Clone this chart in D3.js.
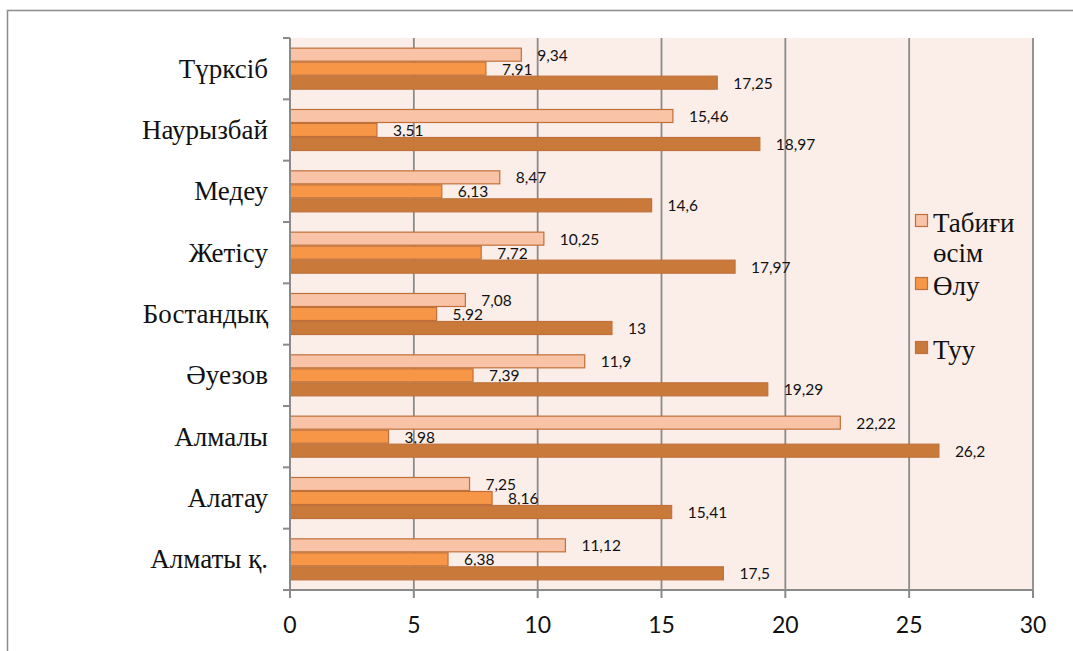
<!DOCTYPE html>
<html>
<head>
<meta charset="utf-8">
<script src="https://cdn.jsdelivr.net/npm/d3@7.9.0/dist/d3.min.js"></script>
<style>
  body { margin: 0; background: #fff; }
  svg { display: block; }
</style>
</head>
<body>
<svg id="chart" width="1073" height="651"></svg>
<script>
// districts, top to bottom as in the picture
const categories = ['Түрксіб', 'Наурызбай', 'Медеу', 'Жетісу', 'Бостандық', 'Әуезов', 'Алмалы', 'Алатау', 'Алматы қ.'];
const natural = [9.34, 15.46, 8.47, 10.25, 7.08, 11.9, 22.22, 7.25, 11.12];
const deaths = [7.91, 3.51, 6.13, 7.72, 5.92, 7.39, 3.98, 8.16, 6.38];
const births = [17.25, 18.97, 14.6, 17.97, 13, 19.29, 26.2, 15.41, 17.5];
const seriesNames = ['Табиғи өсім', 'Өлу', 'Туу'];
const xTicks = [0, 5, 10, 15, 20, 25, 30];

const seriesValues = [natural, deaths, births];
const colors = ['#f9c3a7', '#f79646', '#c97a3a'];
const strokeCol = '#c0703a';
const gridCol = '#8a8a8a';
const serif = 'Liberation Serif';

const svg = d3.select('#chart');
const pLeft = 290, pRight = 1033, pTop = 38, pBottom = 590;

// outer chart border (runs off right and bottom)
svg.append('rect')
  .attr('x', 7.5).attr('y', 10.5)
  .attr('width', 1100).attr('height', 700)
  .attr('fill', 'none').attr('stroke', '#8c8c8c').attr('stroke-width', 1.5);

// plot background
svg.append('rect')
  .attr('x', pLeft).attr('y', pTop)
  .attr('width', pRight - pLeft).attr('height', pBottom - pTop)
  .attr('fill', '#fbeee9');

let x = d3.scaleLinear().domain([0, 30]).range([pLeft, pRight]);
let y = d3.scaleBand().domain(categories).range([pTop, pBottom])
  .paddingInner(0.315).paddingOuter(0.1575);
let ySub = d3.scaleBand().domain(d3.range(3)).range([0, y.bandwidth()]);

// vertical gridlines
svg.selectAll('.grid')
  .data(xTicks.filter(d => d > 0))
  .join('line')
  .attr('x1', d => x(d)).attr('x2', d => x(d))
  .attr('y1', pTop).attr('y2', pBottom)
  .attr('stroke', gridCol).attr('stroke-width', 1.8);

// bars
seriesValues.forEach((vals, s) => {
  svg.append('g').selectAll('rect')
    .data(vals)
    .join('rect')
    .attr('x', x(0))
    .attr('y', (d, i) => y(categories[i]) + ySub(s) + 0.5)
    .attr('width', d => x(d) - x(0))
    .attr('height', ySub.bandwidth() - 1)
    .attr('fill', colors[s])
    .attr('stroke', strokeCol)
    .attr('stroke-width', 1.2);

  svg.append('g').selectAll('text')
    .data(vals)
    .join('text')
    .attr('x', d => x(d) + 16)
    .attr('y', (d, i) => y(categories[i]) + ySub(s) + ySub.bandwidth() / 2 + 6)
    .attr('font-family', 'Lato, sans-serif')
    .attr('font-size', 15.5)
    .attr('fill', '#111')
    .text(d => String(d).replace('.', ','));
});

// y axis line + ticks at band boundaries
svg.append('line')
  .attr('x1', pLeft).attr('x2', pLeft)
  .attr('y1', pTop).attr('y2', pBottom + 8)
  .attr('stroke', gridCol).attr('stroke-width', 2);
let bounds = categories.map(c => y(c) - y.step() * y.paddingInner() / 2);
bounds.push(pBottom);
svg.selectAll('.ytick')
  .data(bounds)
  .join('line')
  .attr('x1', pLeft - 7).attr('x2', pLeft)
  .attr('y1', d => d).attr('y2', d => d)
  .attr('stroke', gridCol).attr('stroke-width', 2);

svg.selectAll('.ylab')
  .data(categories)
  .join('text')
  .attr('x', 268)
  .attr('y', d => y(d) + y.bandwidth() / 2 + 9)
  .attr('text-anchor', 'end')
  .attr('font-family', serif)
  .attr('font-size', 27)
  .attr('fill', '#111')
  .text(d => d);

// x axis
svg.append('line')
  .attr('x1', pLeft).attr('x2', pRight)
  .attr('y1', pBottom).attr('y2', pBottom)
  .attr('stroke', gridCol).attr('stroke-width', 2);
svg.selectAll('.xtick')
  .data(xTicks)
  .join('line')
  .attr('x1', d => x(d)).attr('x2', d => x(d))
  .attr('y1', pBottom).attr('y2', pBottom + 8)
  .attr('stroke', gridCol).attr('stroke-width', 2);
svg.selectAll('.xlab')
  .data(xTicks)
  .join('text')
  .attr('x', d => x(d))
  .attr('y', 633)
  .attr('text-anchor', 'middle')
  .attr('font-family', 'Lato, sans-serif')
  .attr('font-size', 23)
  .attr('fill', '#111')
  .text(d => d);

// legend
const legendRows = [
  { lines: ['Табиғи', 'өсім'], sq: 214 },
  { lines: ['Өлу'], sq: 277 },
  { lines: ['Туу'], sq: 341 }
];
legendRows.forEach((r, i) => {
  svg.append('rect')
    .attr('x', 915.5).attr('y', r.sq + 0.5)
    .attr('width', 12).attr('height', 12)
    .attr('fill', colors[i]).attr('stroke', strokeCol).attr('stroke-width', 1.2);
  r.lines.forEach((t, j) => {
    svg.append('text')
      .attr('x', 933)
      .attr('y', r.sq + 18 + j * 30)
      .attr('font-family', serif)
      .attr('font-size', 27)
      .attr('fill', '#111')
      .text(t);
  });
});
</script>
</body>
</html>
